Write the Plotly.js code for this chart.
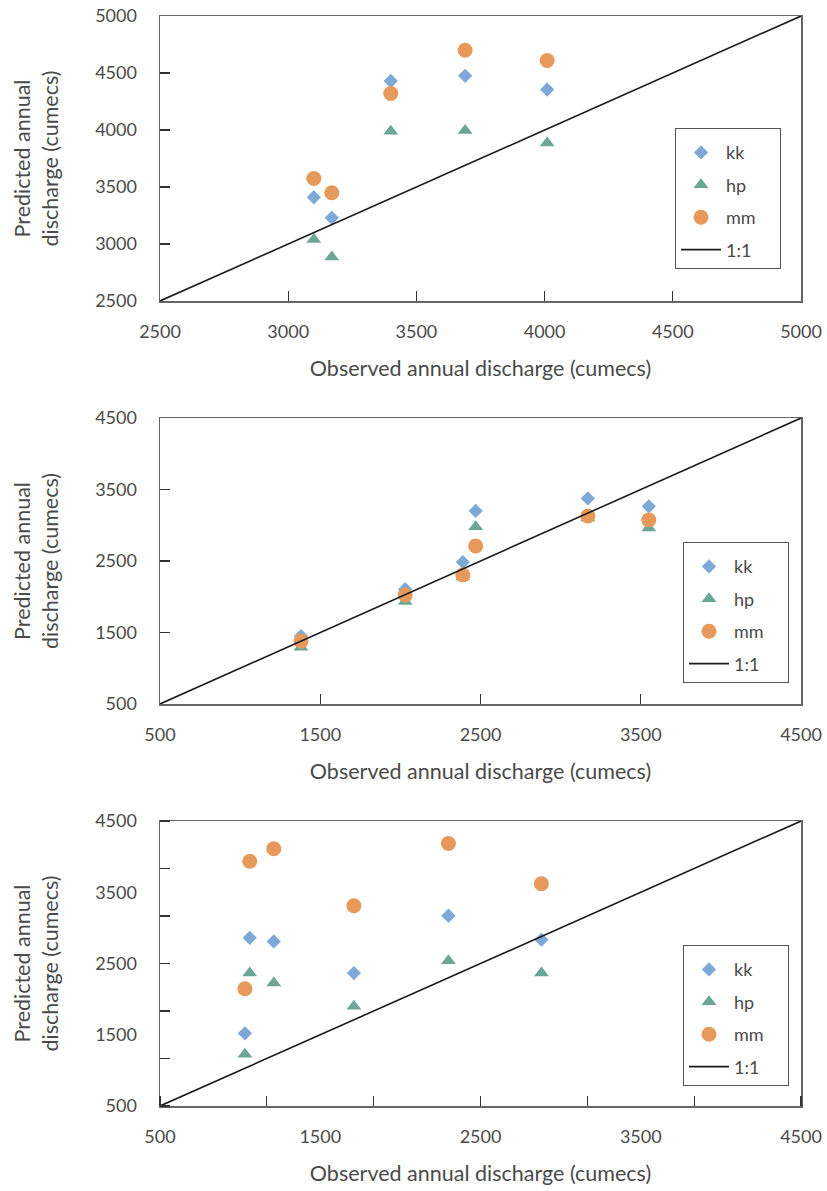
<!DOCTYPE html>
<html>
<head>
<meta charset="utf-8">
<script src="https://cdn.plot.ly/plotly-3.0.1.min.js"></script>
<style>html,body{margin:0;padding:0;background:#fff}#chart{width:827px;height:1191px}</style>
</head>
<body>
<div id="chart"></div>
<script>
// Panel 1
const obs1 = [3100, 3170, 3400, 3690, 4010];
const kk1  = [3410, 3230, 4430, 4475, 4355];
const hp1  = [3040, 2885, 3990, 3995, 3885];
const mm1  = [3575, 3450, 4320, 4700, 4610];
const line1 = [2500, 5000];
const ticks1 = [2500, 3000, 3500, 4000, 4500, 5000];

// Panel 2
const obs2 = [1380, 2030, 2390, 2470, 3170, 3550];
const kk2  = [1450, 2105, 2485, 3200, 3375, 3265];
const hp2  = [1295, 1935, 2275, 2980, 3100, 2960];
const mm2  = [1380, 2025, 2305, 2710, 3130, 3075];
const line2 = [500, 4500];
const ticks2 = [500, 1500, 2500, 3500, 4500];

// Panel 3
const obs3 = [1030, 1060, 1210, 1710, 2300, 2880];
const kk3  = [1520, 2860, 2810, 2365, 3170, 2835];
const hp3  = [1225, 2365, 2225, 1900, 2540, 2365];
const mm3  = [2145, 3935, 4110, 3310, 4185, 3620];
const line3 = [500, 4500];
const labels3 = [500, 1500, 2500, 3500, 4500];
const marks3 = [500, 1166.67, 1833.33, 2500, 3166.67, 3833.33, 4500];

const names = ['kk', 'hp', 'mm', '1:1'];
const colors = {kk: '#7ea9d6', hp: '#6ba697', mm: '#e6995a', line: '#1a1a1a'};

const FONT = 'Lato, "Open Sans", sans-serif';
const TXT = '#4a4a4a';
const PAD = '\u00a0\u00a0\u00a0\u00a0';

function panelTraces(obs, kk, hp, mm, ln, xa, ya, leg) {
  return [
    {x: obs, y: kk, xaxis: xa, yaxis: ya, legend: leg, name: names[0] + PAD, legendgroup: leg + 'a', type: 'scatter', mode: 'markers',
     marker: {symbol: 'diamond', size: 11, color: colors.kk}},
    {x: obs, y: hp, xaxis: xa, yaxis: ya, legend: leg, name: names[1] + PAD, legendgroup: leg + 'b', type: 'scatter', mode: 'markers',
     marker: {symbol: 'triangle-up', size: 13, color: colors.hp}},
    {x: obs, y: mm, xaxis: xa, yaxis: ya, legend: leg, name: names[2] + PAD, legendgroup: leg + 'c', type: 'scatter', mode: 'markers',
     marker: {symbol: 'circle', size: 15, color: colors.mm}},
    {x: ln, y: ln, xaxis: xa, yaxis: ya, legend: leg, name: names[3] + PAD, legendgroup: leg + 'd', type: 'scatter', mode: 'lines',
     line: {color: colors.line, width: 1.6}}
  ];
}

const data = [].concat(
  panelTraces(obs1, kk1, hp1, mm1, line1, 'x', 'y', 'legend'),
  panelTraces(obs2, kk2, hp2, mm2, line2, 'x2', 'y2', 'legend2'),
  panelTraces(obs3, kk3, hp3, mm3, line3, 'x3', 'y3', 'legend3')
);

const L = 160, R = 26, T = 15, B = 85;
const H = 1191 - T - B;
const dom = (top, bot) => [(1106 - bot) / H, (1106 - top) / H];

const axBase = {
  showline: true, mirror: true, linecolor: '#666', linewidth: 1.5,
  ticks: 'inside', ticklen: 10, tickcolor: '#333', tickwidth: 1.2,
  showgrid: false, zeroline: false,
  tickfont: {family: FONT, size: 18, color: TXT}
};
const xTitle = {text: 'Observed annual discharge (cumecs)', font: {family: FONT, size: 21.5, color: TXT}, standoff: 20};
const yTitle = {text: 'Predicted annual<br>discharge (cumecs)', font: {family: FONT, size: 21.5, color: TXT}, standoff: 30};

function legendCfg(xpx, ypx) {
  return {
    x: (xpx - L) / (827 - L - R), y: (1106 - ypx) / H, xanchor: 'left', yanchor: 'top',
    bordercolor: '#555', borderwidth: 1, bgcolor: '#fff',
    font: {family: FONT, size: 18, color: TXT},
    title: {text: '\u00a0', font: {family: FONT, size: 4}},
    traceorder: 'grouped', tracegroupgap: 6, itemwidth: 40
  };
}

const layout = {
  width: 827, height: 1191,
  margin: {l: L, r: R, t: T, b: B},
  paper_bgcolor: '#fff', plot_bgcolor: '#fff',
  showlegend: true,
  xaxis: Object.assign({}, axBase, {domain: [0, 1], anchor: 'y', range: [2500, 5000], tickmode: 'array', tickvals: ticks1, title: xTitle, ticklabelstandoff: 14}),
  yaxis: Object.assign({}, axBase, {domain: dom(16, 301), anchor: 'x', range: [2500, 5000], tickmode: 'array', tickvals: ticks1, title: yTitle, ticklabelstandoff: 18}),
  xaxis2: Object.assign({}, axBase, {domain: [0, 1], anchor: 'y2', range: [500, 4500], tickmode: 'array', tickvals: ticks2, title: xTitle, ticklabelstandoff: 14}),
  yaxis2: Object.assign({}, axBase, {domain: dom(418, 704), anchor: 'x2', range: [500, 4500], tickmode: 'array', tickvals: ticks2, title: yTitle, ticklabelstandoff: 18}),
  xaxis3: Object.assign({}, axBase, {domain: [0, 1], anchor: 'y3', range: [500, 4500], tickmode: 'array', tickvals: labels3, ticks: '', title: xTitle, ticklabelstandoff: 14,
    minor: {tickmode: 'array', tickvals: marks3, ticks: 'inside', ticklen: 10, tickcolor: '#333', tickwidth: 1.2, showgrid: false}}),
  yaxis3: Object.assign({}, axBase, {domain: dom(821, 1106), anchor: 'x3', range: [500, 4500], tickmode: 'array', tickvals: labels3, ticks: '', title: yTitle, ticklabelstandoff: 18,
    minor: {tickmode: 'array', tickvals: marks3, ticks: 'inside', ticklen: 10, tickcolor: '#333', tickwidth: 1.2, showgrid: false}}),
  legend: legendCfg(675, 128),
  legend2: legendCfg(683, 542),
  legend3: legendCfg(683, 945)
};

Plotly.newPlot('chart', data, layout, {displayModeBar: false, staticPlot: true});
</script>
</body>
</html>
